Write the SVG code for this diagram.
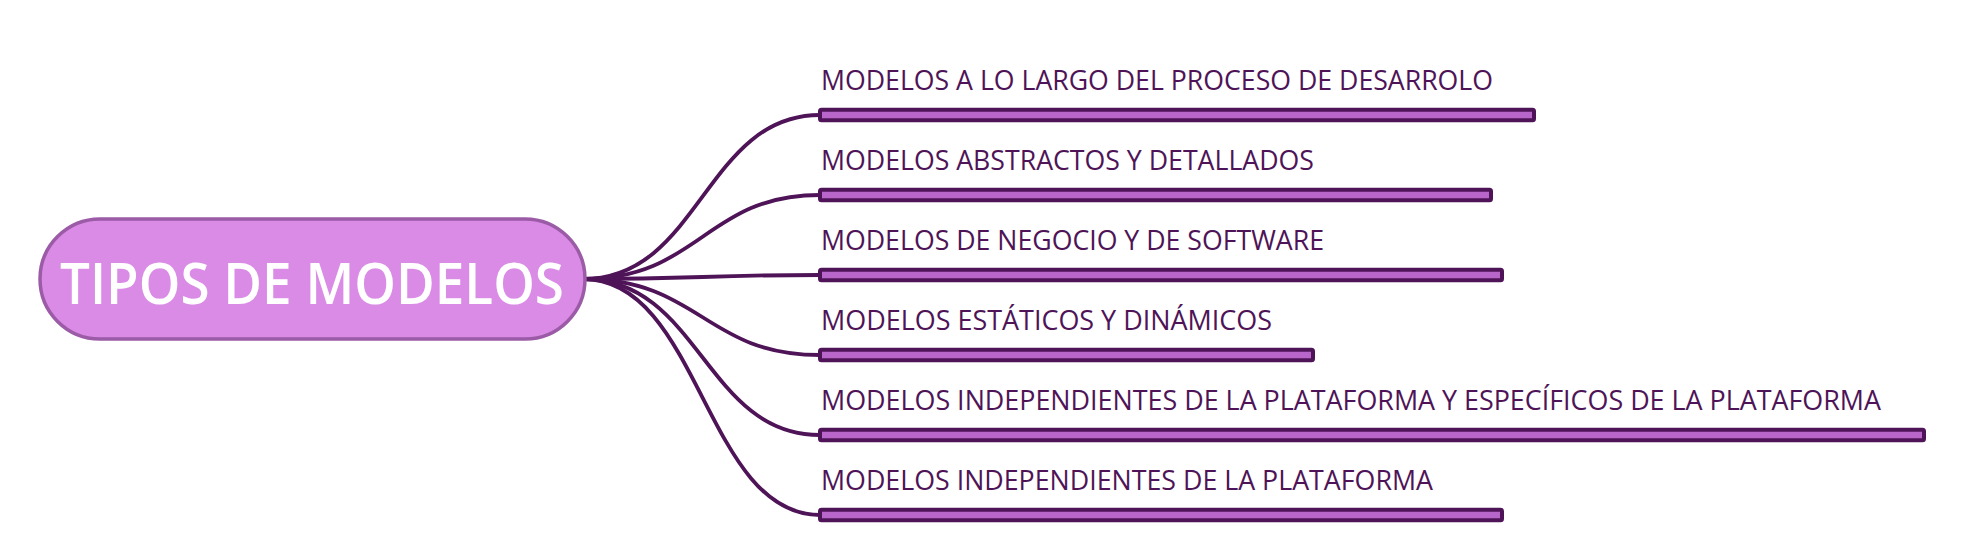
<svg xmlns="http://www.w3.org/2000/svg" width="1964" height="560" viewBox="0 0 1964 560">
<style>
.conn{fill:none;stroke:#4E1457;stroke-width:3.8}
.bar{fill:#B866C9;stroke:#4E1457;stroke-width:4}
.lbl{font-family:"Open Sans","Noto Sans",sans-serif;font-size:28px;fill:#4E1457}
.main{font-family:"Open Sans","Noto Sans",sans-serif;font-size:57px;font-weight:600;fill:#FFFFFF}
</style>
<rect width="1964" height="560" fill="#FFFFFF"/>
<g id="connectors">
<path class="conn" d="M583,279 C700,279 705,115 820,115"/>
<path class="conn" d="M583,279 C700,279 705,195 820,195"/>
<path class="conn" d="M583,279 C700,279 705,275 820,275"/>
<path class="conn" d="M583,279 C700,279 705,355 820,355"/>
<path class="conn" d="M583,279 C700,279 705,435 820,435"/>
<path class="conn" d="M583,279 C700,279 705,515 820,515"/>
</g>
<g id="root">
<rect x="40" y="219" width="545" height="120" rx="60" ry="60" fill="#D98BE5" stroke="#9B5BA6" stroke-width="3.5"/>
<text class="main" x="60" y="304" textLength="504" lengthAdjust="spacingAndGlyphs">TIPOS DE MODELOS</text>
</g>
<g id="n1">
<rect class="bar" x="820" y="109.7" width="714" height="10.6" rx="1.5"/>
<text class="lbl" x="821" y="90" textLength="672" lengthAdjust="spacingAndGlyphs">MODELOS A LO LARGO DEL PROCESO DE DESARROLO</text>
</g>
<g id="n2">
<rect class="bar" x="820" y="189.7" width="671" height="10.6" rx="1.5"/>
<text class="lbl" x="821" y="170" textLength="493" lengthAdjust="spacingAndGlyphs">MODELOS ABSTRACTOS Y DETALLADOS</text>
</g>
<g id="n3">
<rect class="bar" x="820" y="269.7" width="682" height="10.6" rx="1.5"/>
<text class="lbl" x="821" y="250" textLength="503" lengthAdjust="spacingAndGlyphs">MODELOS DE NEGOCIO Y DE SOFTWARE</text>
</g>
<g id="n4">
<rect class="bar" x="820" y="349.7" width="493" height="10.6" rx="1.5"/>
<text class="lbl" x="821" y="330" textLength="451" lengthAdjust="spacingAndGlyphs">MODELOS ESTÁTICOS Y DINÁMICOS</text>
</g>
<g id="n5">
<rect class="bar" x="820" y="429.7" width="1104" height="10.6" rx="1.5"/>
<text class="lbl" x="821" y="410" textLength="1060" lengthAdjust="spacingAndGlyphs">MODELOS INDEPENDIENTES DE LA PLATAFORMA Y ESPECÍFICOS DE LA PLATAFORMA</text>
</g>
<g id="n6">
<rect class="bar" x="820" y="509.7" width="682" height="10.6" rx="1.5"/>
<text class="lbl" x="821" y="490" textLength="612" lengthAdjust="spacingAndGlyphs">MODELOS INDEPENDIENTES DE LA PLATAFORMA</text>
</g>
</svg>
